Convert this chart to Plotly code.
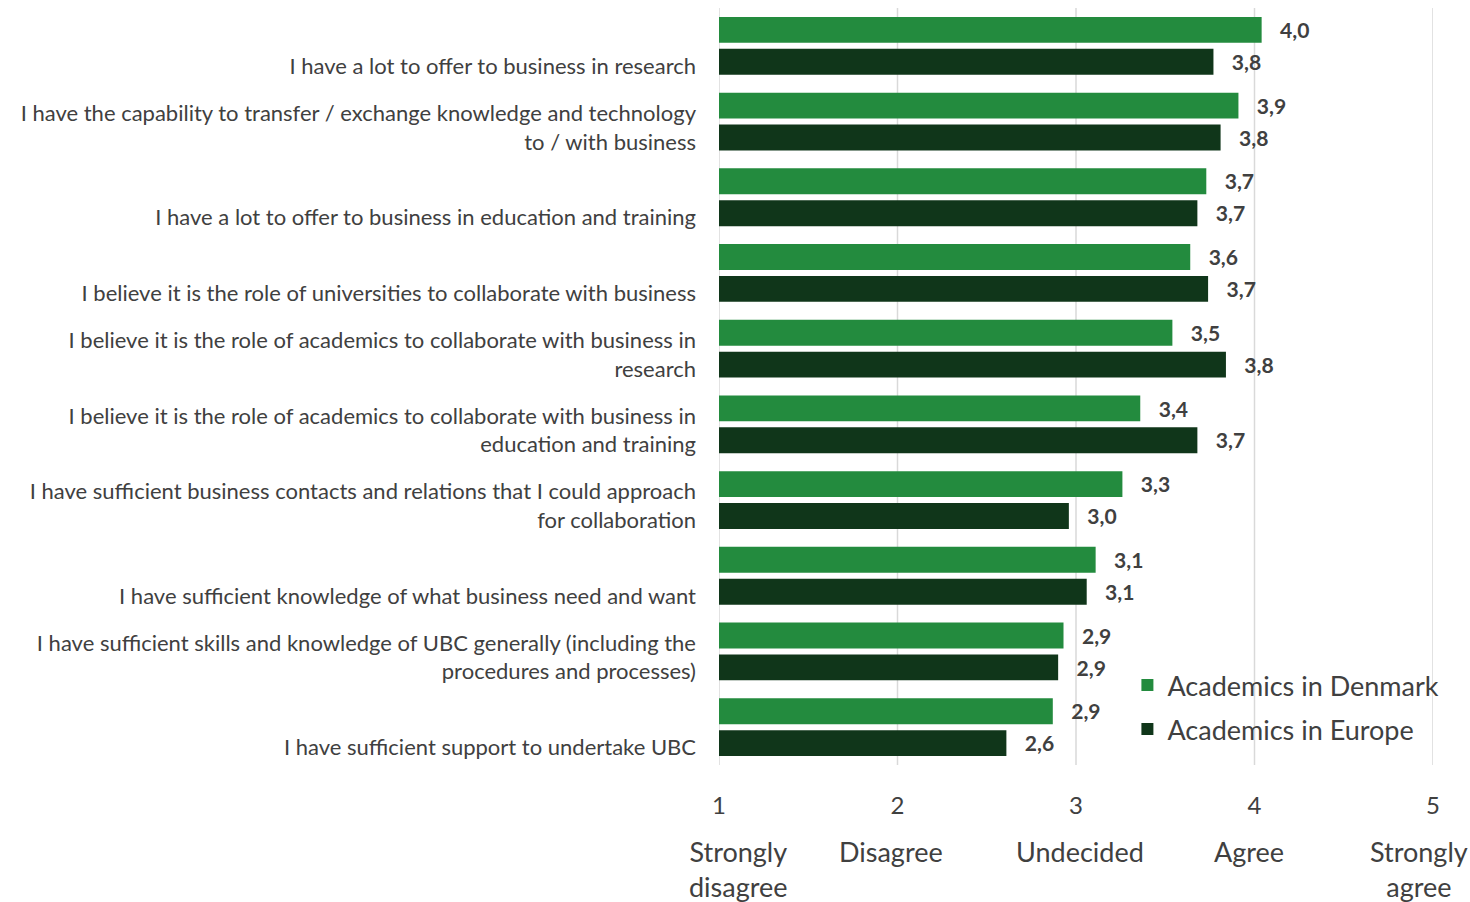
import plotly.graph_objects as go

statements = [
    "&nbsp;<br>I have a lot to offer to business in research",
    "I have the capability to transfer / exchange knowledge and technology<br>to / with business",
    "&nbsp;<br>I have a lot to offer to business in education and training",
    "&nbsp;<br>I believe it is the role of universities to collaborate with business",
    "I believe it is the role of academics to collaborate with business in<br>research",
    "I believe it is the role of academics to collaborate with business in<br>education and training",
    "I have sufficient business contacts and relations that I could approach<br>for collaboration",
    "&nbsp;<br>I have sufficient knowledge of what business need and want",
    "I have sufficient skills and knowledge of UBC generally (including the<br>procedures and processes)",
    "&nbsp;<br>I have sufficient support to undertake UBC",
]

denmark = [4.04, 3.91, 3.73, 3.64, 3.54, 3.36, 3.26, 3.11, 2.93, 2.87]
europe = [3.77, 3.81, 3.68, 3.74, 3.84, 3.68, 2.96, 3.06, 2.90, 2.61]

scale_values = [1, 2, 3, 4, 5]
scale_numbers = ["1", "2", "3", "4", "5"]
scale_words = ["Strongly<br>disagree", "Disagree", "Undecided", "Agree", "Strongly<br>agree"]
scale_word_pos = [1.107, 1.964, 3.02, 3.97, 4.92]

FONT = "Lato"
TEXT = "#404040"
GREEN = "#238b3e"
DARK = "#10361a"
GRID = "#d9d9d9"

fig = go.Figure()

# vertical gridlines at each scale point, drawn beneath the bars
for v in scale_values:
    fig.add_shape(type="line", xref="x", yref="paper", x0=v, x1=v, y0=0, y1=1,
                  line=dict(color=GRID, width=1.5), layer="below")

series = [("Academics in Denmark", denmark, GREEN, "legend"),
          ("Academics in Europe", europe, DARK, "legend2")]
for name, vals, col, leg in series:
    fig.add_trace(go.Bar(
        y=statements, x=[v - 1 for v in vals], base=1, orientation="h",
        name=name, marker=dict(color=col, line=dict(width=0)),
        customdata=vals, legend=leg,
        texttemplate="   %{customdata:.1f}", textposition="outside",
        textfont=dict(family=FONT, size=22, color=TEXT, weight="bold"),
        cliponaxis=False,
    ))

for xv, words in zip(scale_word_pos, scale_words):
    fig.add_annotation(
        x=xv, xref="x", y=-0.09, yref="paper", yanchor="top",
        text=words, showarrow=False,
        font=dict(family=FONT, size=27, color=TEXT),
    )

legend_style = dict(
    xanchor="left", yanchor="middle",
    font=dict(family=FONT, size=27, color=TEXT),
    bgcolor="rgba(255,255,255,0)", itemwidth=30,
)

fig.update_layout(
    width=1470, height=902,
    margin=dict(l=719, r=37, t=8, b=137),
    paper_bgcolor="white", plot_bgcolor="white",
    separators=",.",
    barmode="group", bargap=0.158, bargroupgap=0.1875,
    font=dict(family=FONT, color=TEXT),
    legend=dict(x=0.572, y=0.105, **legend_style),
    legend2=dict(x=0.572, y=0.047, **legend_style),
    showlegend=True,
)
fig.update_xaxes(
    range=[1, 5], tickvals=scale_values, ticktext=scale_numbers,
    showgrid=False, zeroline=False, showline=False, ticks="",
    tickfont=dict(family=FONT, size=24, color=TEXT),
    ticklabelstandoff=24,
)
fig.update_yaxes(
    autorange=False, range=[9.5, -0.5], showgrid=False, showline=False, ticks="",
    tickfont=dict(family=FONT, size=22, color=TEXT),
    ticklabelstandoff=22, ticklabelshift=-6,
)

fig.write_html("out.html")
